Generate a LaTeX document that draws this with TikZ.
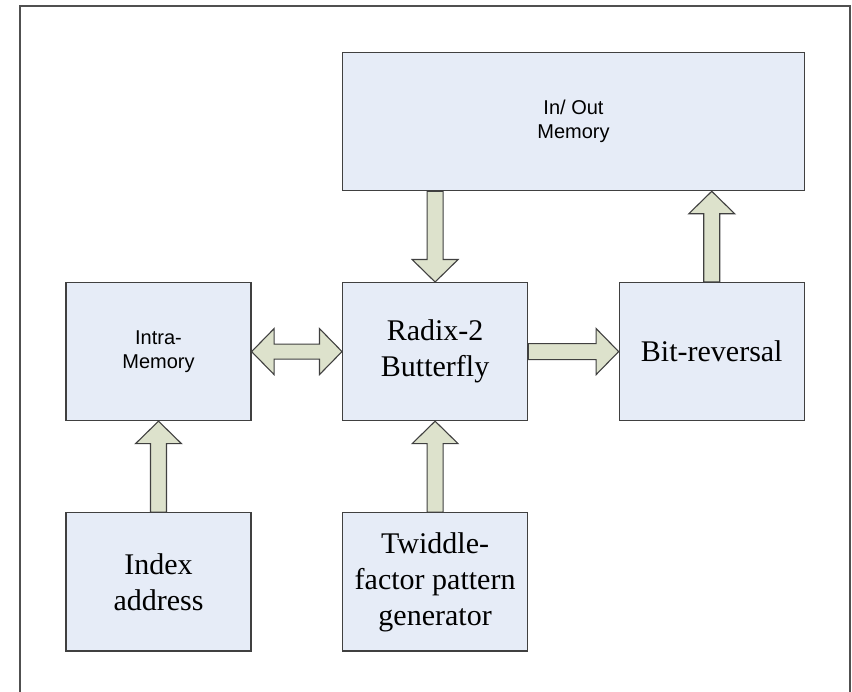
\documentclass[tikz,border=0pt]{standalone}
\usepackage{fontspec}
\setmainfont{Liberation Serif}
\newfontfamily\blocksans{Liberation Sans}
\usetikzlibrary{calc}

\definecolor{blockfill}{RGB}{230,236,247}
\definecolor{arrowfill}{RGB}{221,226,204}
\definecolor{edgegray}{RGB}{64,64,64}
\definecolor{framegray}{RGB}{80,80,80}

\tikzset{
  block/.style={draw=edgegray, line width=1.2pt, fill=blockfill,
    rectangle, inner sep=0pt, align=center,
    minimum width=185pt, minimum height=138pt},
  serifbig/.style={font=\fontsize{30}{36}\selectfont},
  sanssmall/.style={font=\blocksans\fontsize{20}{24.5}\selectfont},
  fatarrow/.style={draw=edgegray, line width=1.1pt, fill=arrowfill, line join=miter},
}

% block arrow from #1 to #2, tip at #2
\newcommand{\blkarrow}[2]{%
  \path (#1) coordinate (ba-a) (#2) coordinate (ba-b);
  \path ($(ba-b)!22.5pt!(ba-a)$) coordinate (ba-h);
  \draw[fatarrow]
    ($(ba-a)!8pt!90:(ba-b)$) -- ($(ba-h)!8pt!90:(ba-b)$) --
    ($(ba-h)!23pt!90:(ba-b)$) -- (ba-b) --
    ($(ba-h)!23pt!-90:(ba-b)$) -- ($(ba-h)!8pt!-90:(ba-b)$) --
    ($(ba-a)!8pt!-90:(ba-b)$) -- cycle;
}
% block arrow with a head at both ends
\newcommand{\dblarrow}[2]{%
  \path (#1) coordinate (da-a) (#2) coordinate (da-b);
  \path ($(da-a)!22.5pt!(da-b)$) coordinate (da-ha)
        ($(da-b)!22.5pt!(da-a)$) coordinate (da-hb);
  \draw[fatarrow]
    (da-a) -- ($(da-ha)!23pt!90:(da-b)$) -- ($(da-ha)!7.5pt!90:(da-b)$) --
    ($(da-hb)!7.5pt!90:(da-b)$) -- ($(da-hb)!23pt!90:(da-b)$) -- (da-b) --
    ($(da-hb)!23pt!-90:(da-b)$) -- ($(da-hb)!7.5pt!-90:(da-b)$) --
    ($(da-ha)!7.5pt!-90:(da-b)$) -- ($(da-ha)!23pt!-90:(da-b)$) -- cycle;
}

\begin{document}
\begin{tikzpicture}[x=1pt, y=-1pt]
  \useasboundingbox (0,0) rectangle (852,692);
  \fill[white] (0,0) rectangle (852,692);

  % page frame (open at the bottom)
  \draw[framegray, line width=1.3pt] (20,692) -- (20,6) -- (850,6) -- (850,692);

  % blocks
  \node[block, sanssmall, minimum width=462pt, minimum height=138.4pt]
    (io) at (573.5,121.5) {In/ Out\\Memory};
  \node[block, sanssmall] (intra) at (158.5,351.6) {Intra-\\Memory};
  \node[block, serifbig] (radix) at (435.1,351.6) {Radix-2\\Butterfly};
  \node[block, serifbig] (bit) at (711.75,351.6) {Bit-reversal};
  \node[block, serifbig] (index) at (158.5,581.9) {Index\\address};
  \node[block, serifbig] (twid) at (435.1,581.9) {Twiddle-\\factor pattern\\generator};

  % data paths
  \blkarrow{radix.north |- io.south}{radix.north}
  \blkarrow{bit.north}{bit.north |- io.south}
  \blkarrow{radix.east}{bit.west}
  \dblarrow{intra.east}{radix.west}
  \blkarrow{index.north}{intra.south}
  \blkarrow{twid.north}{radix.south}
\end{tikzpicture}
\end{document}
